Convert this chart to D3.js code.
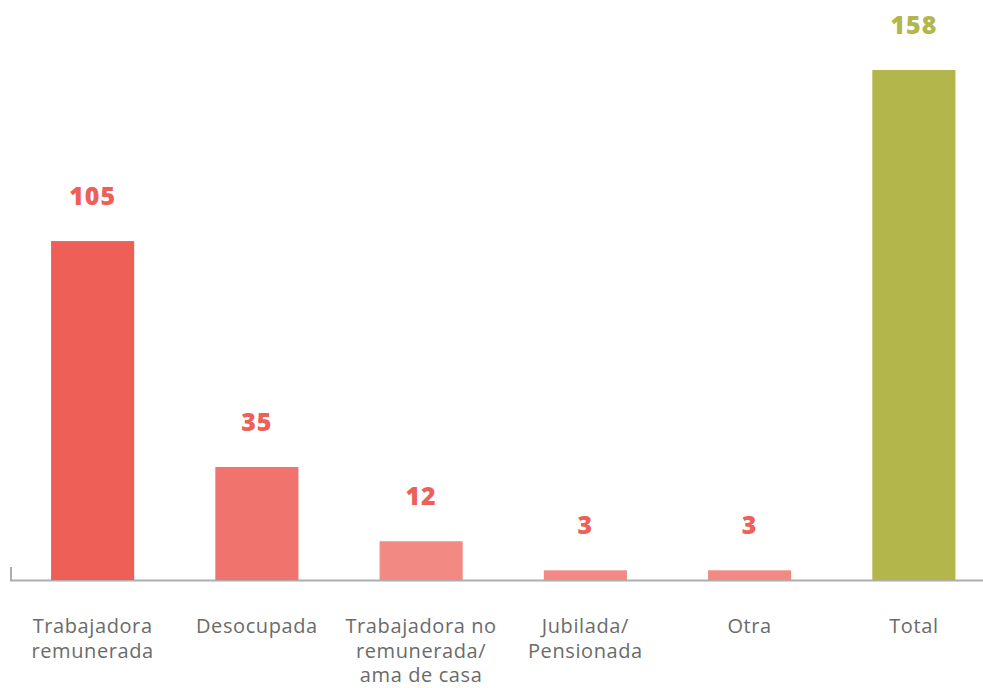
<!DOCTYPE html>
<html>
<head>
<meta charset="utf-8">
<script src="https://cdn.jsdelivr.net/npm/d3@7"></script>
<style>
    body { margin: 0; background: #fff; }
    #chart { width: 983px; height: 688px; }
</style>
</head>
<body>
<div id="chart"></div>
<script>
// Data
const categories = [
    ["Trabajadora", "remunerada"],
    ["Desocupada"],
    ["Trabajadora no", "remunerada/", "ama de casa"],
    ["Jubilada/", "Pensionada"],
    ["Otra"],
    ["Total"]
];
const values = [105, 35, 12, 3, 3, 158];
const barColors = ['#ee5f57', '#f0736e', '#f28983', '#f28983', '#f28983', '#b3b64b'];
const labelColors = ['#ee5f57', '#ee5f57', '#ee5f57', '#ee5f57', '#ee5f57', '#b3b64b'];

const width = 983, height = 688;
const baseY = 580;

let svg = d3.select("#chart").append("svg")
    .attr("width", width)
    .attr("height", height);

let x = d3.scaleBand()
    .domain(d3.range(values.length))
    .range([10.5, 996])
    .paddingInner(0.494)
    .paddingOuter(0.247);

let y = d3.scaleLinear()
    .domain([0, 158])
    .range([baseY, 70]);

// Baseline
svg.append("path")
    .attr("d", `M11,567 V580.5 H${width}`)
    .attr("fill", "none")
    .attr("stroke", "#acafae")
    .attr("stroke-width", 2);

// Bars
svg.selectAll(".bar")
    .data(values)
    .enter().append("rect")
    .attr("class", "bar")
    .attr("x", (d, i) => x(i))
    .attr("y", d => y(d))
    .attr("width", x.bandwidth())
    .attr("height", d => baseY - y(d))
    .attr("fill", (d, i) => barColors[i]);

// Value labels
svg.selectAll(".val")
    .data(values)
    .enter().append("text")
    .attr("class", "val")
    .attr("x", (d, i) => x(i) + x.bandwidth() / 2)
    .attr("y", d => y(d) - 36)
    .attr("text-anchor", "middle")
    .attr("font-family", "'Open Sans', sans-serif")
    .attr("font-weight", 800)
    .attr("font-size", 25)
    .attr("letter-spacing", 1)
    .attr("fill", (d, i) => labelColors[i])
    .text(d => d);

// Category labels
let cat = svg.selectAll(".cat")
    .data(categories)
    .enter().append("text")
    .attr("class", "cat")
    .attr("x", (d, i) => x(i) + x.bandwidth() / 2)
    .attr("y", 633)
    .attr("text-anchor", "middle")
    .attr("font-family", "'Open Sans', sans-serif")
    .attr("font-size", 20)
    .attr("letter-spacing", 0.6)
    .attr("fill", "#6b6b6b");

cat.selectAll("tspan")
    .data(d => d)
    .enter().append("tspan")
    .attr("x", function () { return d3.select(this.parentNode).attr("x"); })
    .attr("dy", (d, i) => i === 0 ? 0 : 24.5)
    .text(d => d);
</script>
</body>
</html>
